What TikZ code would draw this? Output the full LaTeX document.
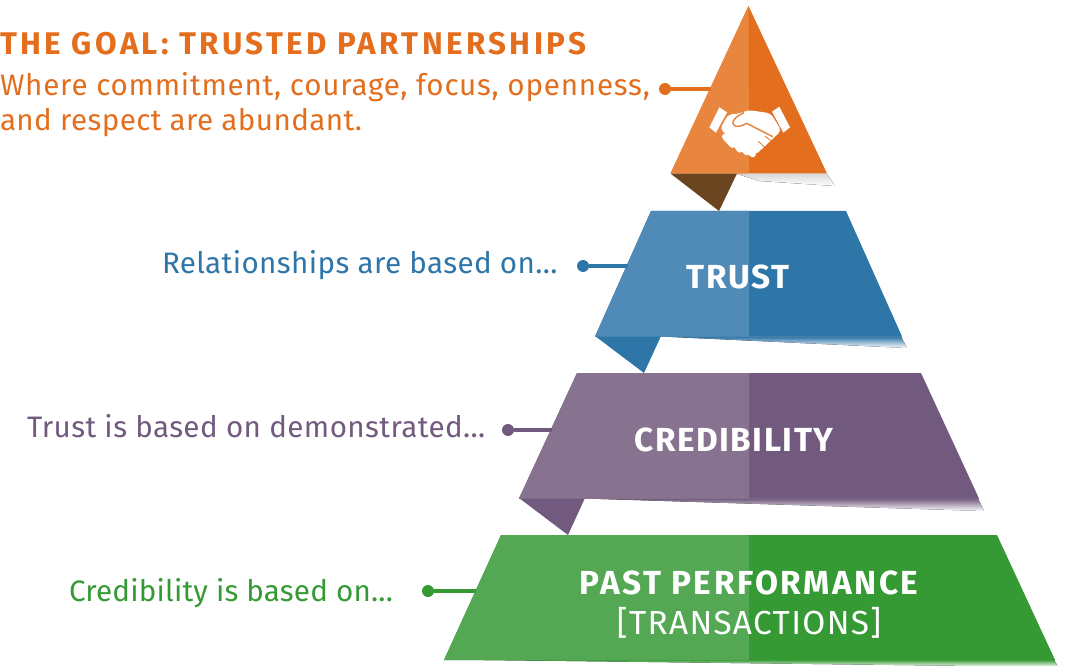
\documentclass[tikz,border=0pt]{standalone}
\usepackage{fontspec}
\setmainfont{Fira Sans}
\usepackage{tikz}
\usetikzlibrary{positioning}

\definecolor{orangeD}{HTML}{E36F1E}
\definecolor{orangeL}{HTML}{E8853F}
\definecolor{brownD}{HTML}{6B4520}
\definecolor{blueD}{HTML}{2E75A8}
\definecolor{blueL}{HTML}{4F8BB6}
\definecolor{purpleD}{HTML}{715A7E}
\definecolor{purpleL}{HTML}{877290}
\definecolor{greenD}{HTML}{359934}
\definecolor{greenL}{HTML}{54A854}

\newcommand{\spaced}[1]{\addfontfeature{LetterSpace=#1}}

\begin{document}
\begin{tikzpicture} [x=0.75pt, y=-0.75pt, inner sep=0pt, outer sep=0pt]

            \tikzstyle{say} = [anchor=base west, font=\fontsize{22.2}{26}\selectfont]
            \tikzstyle{title} = [anchor=base, text=white, font=\fontsize{25}{28}\selectfont\bfseries\spaced{5.5}]
            \tikzstyle{dot} = [circle, minimum size=9pt]
            \tikzstyle{link} = [line width=2.4pt]

            \useasboundingbox (0, 0) rectangle (1066, 666);

            % top triangle
            \fill[shading=axis, top color=gray!30, bottom color=white] (737, 174) -- (827, 174) -- (835, 186) -- (760, 181) -- cycle;
            \fill[brownD] (670.5, 173.5) -- (737, 173.5) -- (719, 211) -- cycle;
            \fill[orangeD] (748.5, 6) -- (827, 173.5) -- (670.5, 173.5) -- cycle;
            \fill[orangeL] (748.5, 6) -- (749, 173.5) -- (670.5, 173.5) -- cycle;

            % handshake
            \begin{scope}[shift={(640, 0)}, scale=1/3]
                \fill[white] (238, 322) -- (261, 337) -- (228, 398) -- (208, 382) -- cycle;
                \fill[white] (418, 320) -- (450, 382) -- (430, 398) -- (396, 335) -- cycle;
                \fill[white, rounded corners=3pt] (264, 344) -- (300, 340) -- (325, 330) -- (392, 340) -- (424, 392) -- (405, 410) -- (345, 466) -- (300, 425) -- (262, 405) -- (240, 388) -- cycle;
                \draw[white, line width=5pt, line cap=round] (256, 410) -- (278, 434) (274, 412) -- (300, 448) (298, 428) -- (320, 456) (320, 443) -- (338, 462);
                \draw[orangeL, line width=1.1pt] (312, 338) .. controls (295, 345) and (272, 362) .. (280, 374) .. controls (290, 384) and (305, 378) .. (320, 370) -- (398, 410);
                \draw[orangeL, line width=.7pt] (392, 422) -- (375, 408) (372, 440) -- (355, 424);
            \end{scope}

            % trust band
            \fill[shading=axis, top color=blueD, bottom color=white] (661, 336.5) -- (901, 336.5) -- (907, 348) -- cycle;
            \fill[blueD] (595, 336) -- (661, 336) -- (644, 373) -- cycle;
            \fill[blueD] (651, 211) -- (846, 211) -- (902, 336.5) -- (595, 336.5) -- cycle;
            \fill[blueL] (651, 211) -- (749, 211) -- (749, 336.5) -- (595, 336.5) -- cycle;

            % credibility band
            \fill[shading=axis, top color=purpleD, bottom color=white] (585, 498.5) -- (978, 498.5) -- (984, 511) -- cycle;
            \fill[purpleD] (519, 498) -- (585, 498) -- (568, 535) -- cycle;
            \fill[purpleD] (577, 373) -- (921, 373) -- (979, 498.5) -- (519, 498.5) -- cycle;
            \fill[purpleL] (577, 373) -- (749, 373) -- (749, 498.5) -- (519, 498.5) -- cycle;

            % past performance band
            \fill[shading=axis, top color=greenD, bottom color=white] (444, 659.5) -- (1054, 659.5) -- (1058, 667) -- cycle;
            \fill[greenD] (501, 535) -- (997, 535) -- (1055, 660) -- (444, 660) -- cycle;
            \fill[greenL] (501, 535) -- (749, 535) -- (749, 660) -- (444, 660) -- cycle;

            % left side labels
            \node[say, text=orangeD, font=\fontsize{23.5}{26}\selectfont\bfseries\spaced{10.7}](goal_head) at(0, 55) {THE GOAL: TRUSTED PARTNERSHIPS};
            \node[say, text=orangeD](goal_a) at(0, 96) {\spaced{2.6}Where commitment, courage, focus, openness,};
            \node[say, text=orangeD](goal_b) at(0, 131) {\spaced{1.3}and respect are abundant.};
            \node[say, text=blueD](trust_say) at(162, 274) {\spaced{1.3}Relationships are based on...};
            \node[say, text=purpleD](cred_say) at(27, 437) {\spaced{1.4}Trust is based on demonstrated...};
            \node[say, text=greenD](past_say) at(69, 601) {\spaced{0.7}Credibility is based on...};

            % band titles
            \node[title](trust_title) at(738, 289) {TRUST};
            \node[title, font=\fontsize{25}{28}\selectfont\bfseries\spaced{4.5}](cred_title) at(734, 451) {CREDIBILITY};
            \node[title, font=\fontsize{25}{28}\selectfont\bfseries\spaced{7.5}](past_title) at(749, 594) {PAST PERFORMANCE};
            \node[title, font=\fontsize{25}{28}\selectfont\mdseries\spaced{4}](past_sub) at(749, 634) {[TRANSACTIONS]};

            % dots and connectors
            \node[dot, fill=orangeD](goal_dot) at(665, 89) {};
            \node[dot, fill=blueD](trust_dot) at(583, 266) {};
            \node[dot, fill=purpleD](cred_dot) at(508, 430) {};
            \node[dot, fill=greenD](past_dot) at(428, 591) {};
            \coordinate (goal_end) at(711, 89);
            \coordinate (trust_end) at(628, 266);
            \coordinate (cred_end) at(552, 430);
            \coordinate (past_end) at(476, 591);

            \draw[link, orangeD] (goal_dot) -- (goal_end);
            \draw[link, blueD] (trust_dot) -- (trust_end);
            \draw[link, purpleD] (cred_dot) -- (cred_end);
            \draw[link, greenD] (past_dot) -- (past_end);
\end{tikzpicture}
\end{document}
